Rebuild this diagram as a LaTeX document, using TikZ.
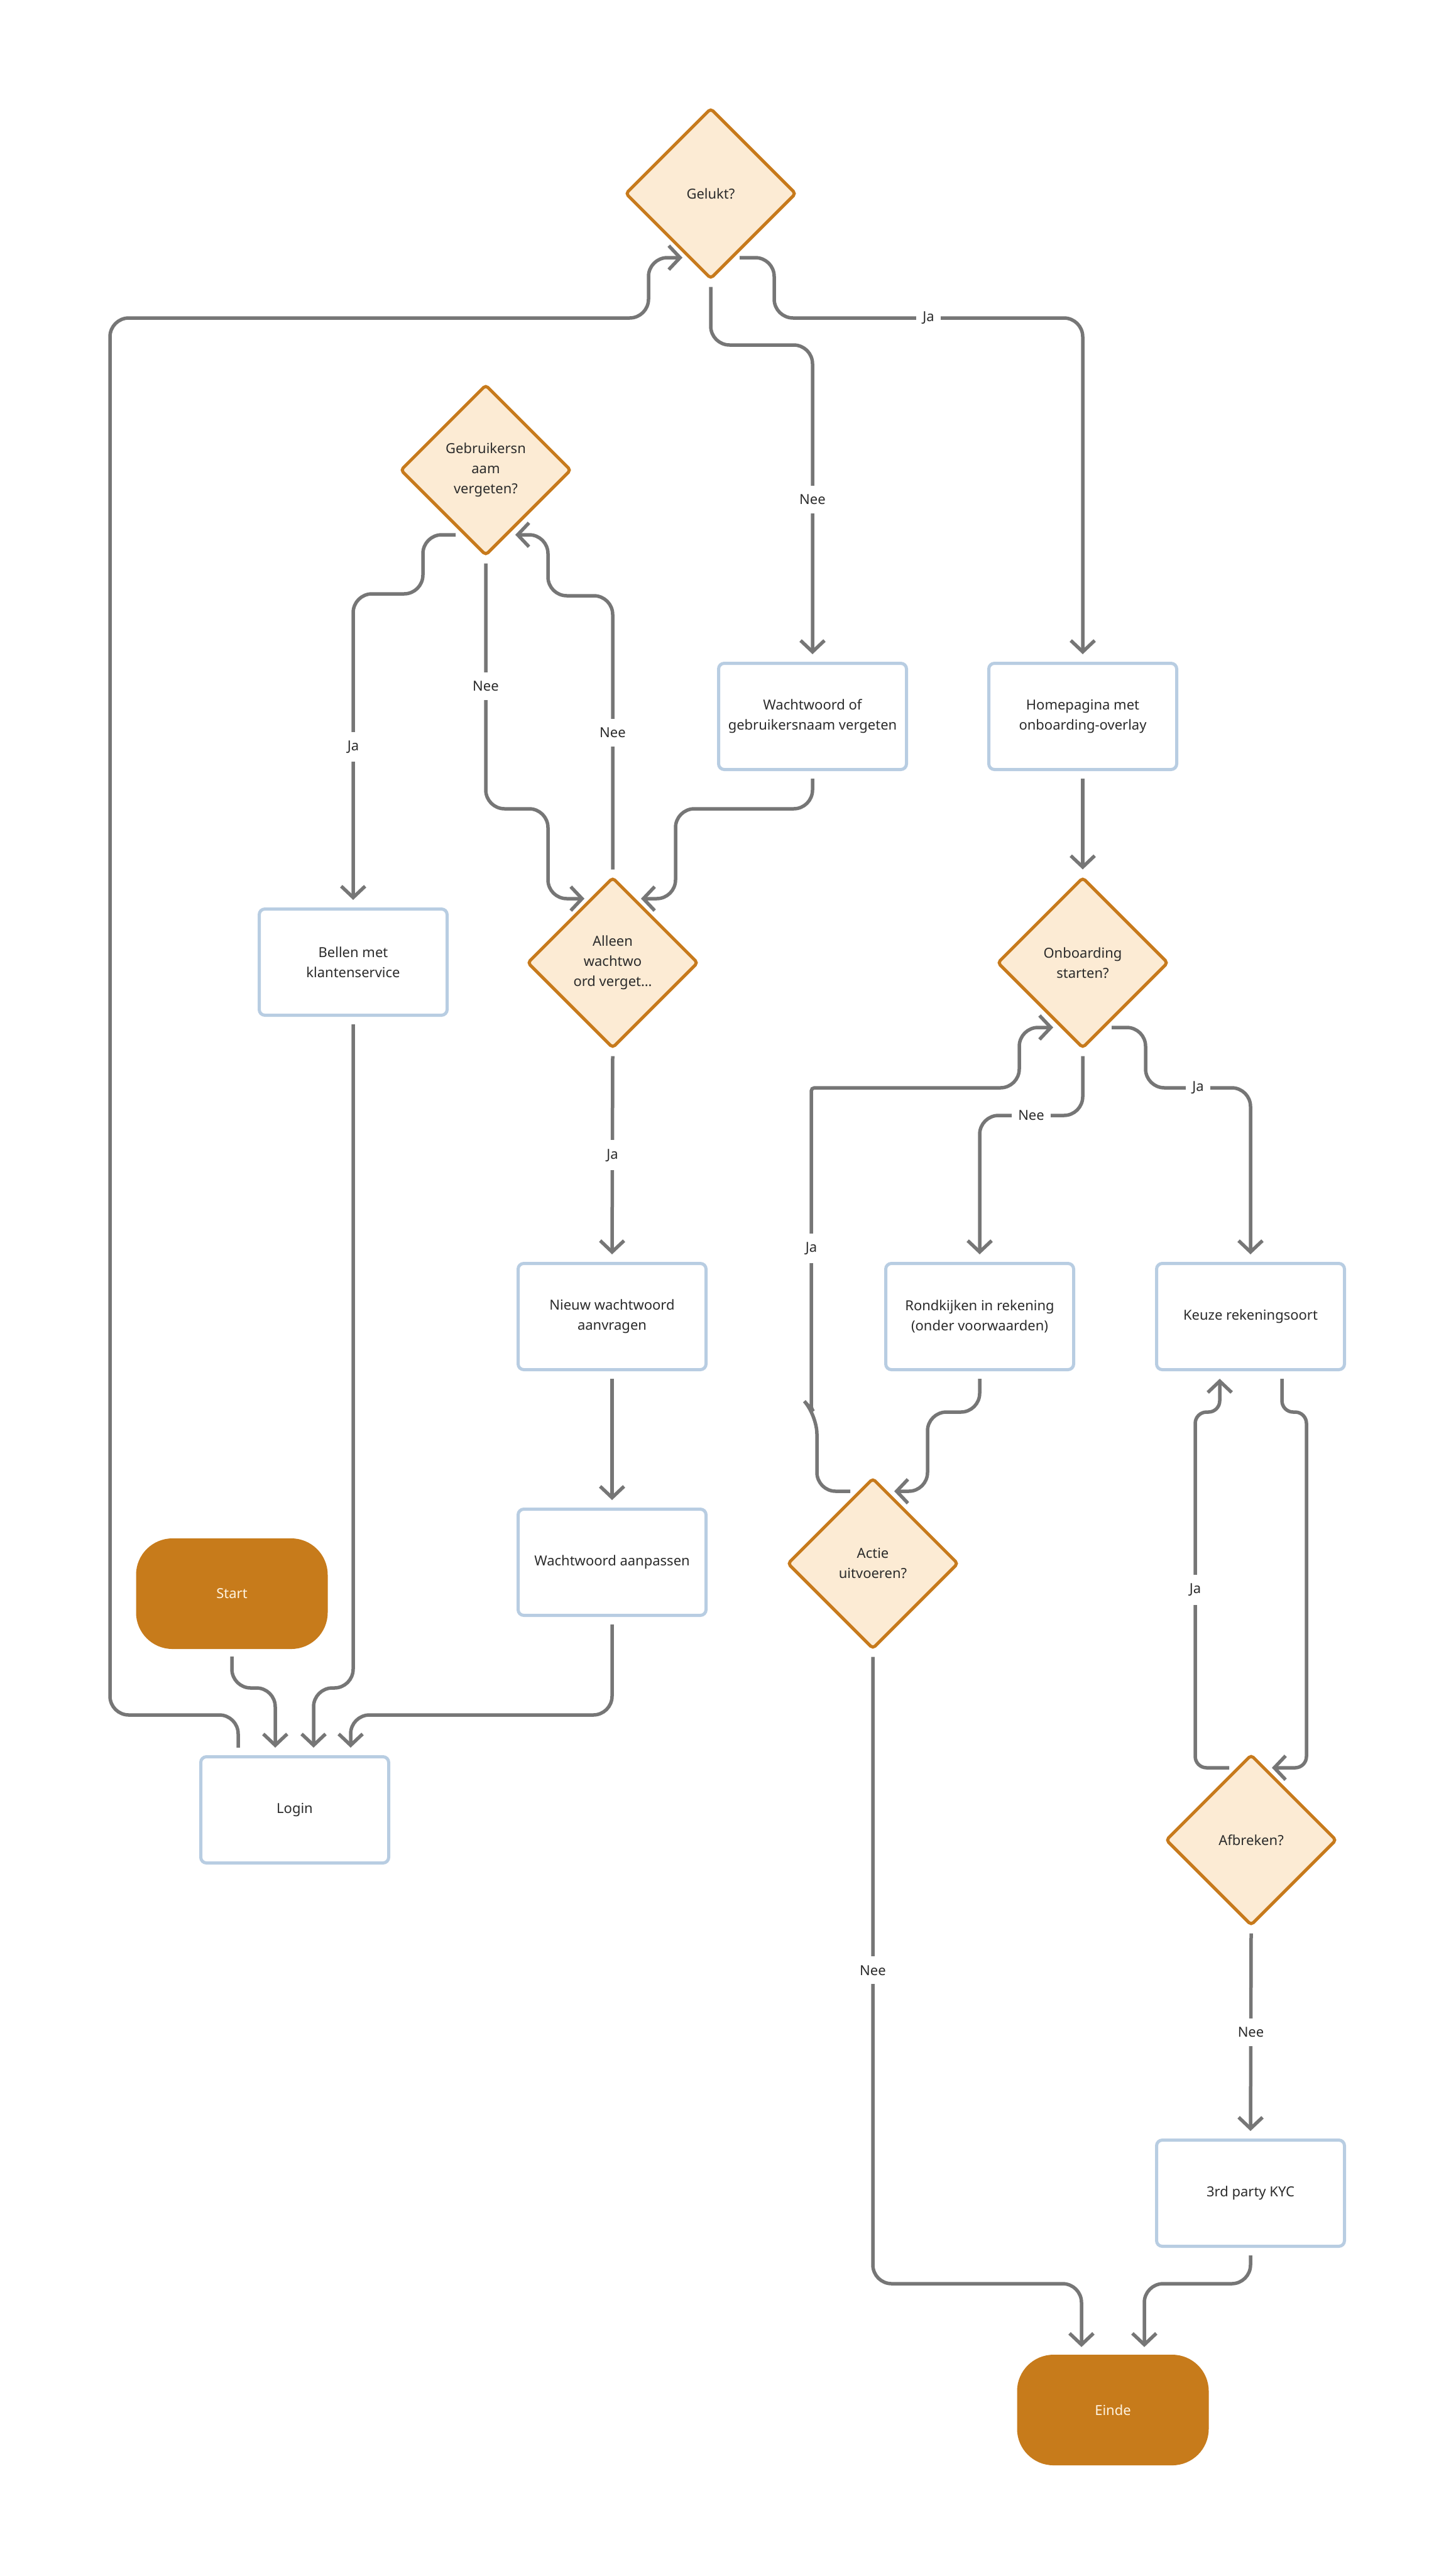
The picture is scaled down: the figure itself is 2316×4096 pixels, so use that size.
\documentclass[tikz,border=0pt]{standalone}
\usepackage{fontspec}
\setmainfont{Noto Sans}
\usetikzlibrary{shapes.geometric,arrows.meta,calc}
\definecolor{dborder}{HTML}{C77A1C}
\definecolor{dfill}{HTML}{FCEBD4}
\definecolor{bborder}{HTML}{B8CDE2}
\definecolor{termfill}{HTML}{C77B1B}
\definecolor{termtext}{HTML}{FFF4E2}
\definecolor{conncol}{HTML}{767676}
\definecolor{txt}{HTML}{2B2B2B}
\begin{document}
\begin{tikzpicture}[x=1pt,y=-1pt,
  every node/.style={font=\fontsize{22}{32}\selectfont, text=txt},
  decision/.style={diamond, draw=dborder, fill=dfill, line width=5pt, minimum width=272pt, minimum height=272pt, inner sep=0pt, align=center, rounded corners=5pt},
  box/.style={rectangle, draw=bborder, fill=white, line width=5pt, minimum width=299pt, minimum height=169pt, rounded corners=9pt, align=center, inner sep=0pt},
  terminal/.style={rectangle, fill=termfill, minimum width=305pt, minimum height=176pt, rounded corners=58pt, text=termtext},
  conn/.style={draw=conncol, line width=5.5pt, rounded corners=30pt, -{Straight Barb[length=18pt,width=38pt]}},
  lbl/.style={fill=white, inner xsep=10pt, inner ysep=14pt, text=txt, rounded corners=0pt}
]
\path[use as bounding box] (0,0) rectangle (2316,4096);

% decisions
\node[decision] (gelukt) at (1131,308) {Gelukt?};
\node[decision] (gebr) at (773,748) {Gebruikersn\\aam\\vergeten?};
\node[decision] (alleen) at (975,1532) {Alleen\\wachtwo\\ord verget…};
\node[decision] (onb) at (1723,1532) {Onboarding\\starten?};
\node[decision] (actie) at (1389,2488) {Actie\\uitvoeren?};
\node[decision] (afbr) at (1991,2928) {Afbreken?};

% boxes
\node[box] (ww) at (1293,1140) {Wachtwoord of\\gebruikersnaam vergeten};
\node[box] (home) at (1723,1140) {Homepagina met\\onboarding-overlay};
\node[box] (bellen) at (562,1531) {Bellen met\\klantenservice};
\node[box] (nieuw) at (974,2095) {Nieuw wachtwoord\\aanvragen};
\node[box] (aanp) at (974,2486) {Wachtwoord aanpassen};
\node[box] (rond) at (1559,2095) {Rondkijken in rekening\\(onder voorwaarden)};
\node[box] (keuze) at (1990,2095) {Keuze rekeningsoort};
\node[box] (kyc) at (1990,3490) {3rd party KYC};
\node[box] (login) at (469,2880) {Login};

% terminals
\node[terminal] (start) at (369,2536) {Start};
\node[terminal] (einde) at (1771,3835) {Einde};

% connectors
\draw[conn] ([yshift=-10pt]gelukt.south) -- (1131,549) -- (1293,549) -- node[lbl]{Nee} ([yshift=12pt]ww.north);
\draw[conn] ($(gelukt)+(46,102)$) -- (1232,410) -- (1232,506) -- node[lbl]{Ja} (1723,506) -- ([yshift=12pt]home.north);
\draw[conn] ([xshift=-90pt,yshift=12pt]login.north) -- (379,2729) -- (175,2729) -- (175,506) -- (1032,506) -- (1032,410) -- ($(gelukt)+(-45,102)$);

\draw[conn] ($(gebr)+(-48,103)$) -- (673,851) -- (673,945) -- (562,945) -- node[lbl]{Ja} ([yshift=12pt]bellen.north);
\draw[conn] ([yshift=-10pt]gebr.south) -- node[lbl]{Nee} (773,1287) -- (872,1287) -- (872,1430) -- ($(alleen)+(-45,-102)$);
\draw[conn] ([yshift=10pt]alleen.north) -- node[lbl]{Nee} (975,948) -- (872,948) -- (872,851) -- ($(gebr)+(47,103)$);
\draw[conn] ([yshift=-12pt]ww.south) -- (1293,1287) -- (1075,1287) -- (1075,1430) -- ($(alleen)+(45,-102)$);

\draw[conn] ([yshift=-10pt]alleen.south) -- node[lbl]{Ja} ([yshift=12pt]nieuw.north);
\draw[conn] ([yshift=-12pt]nieuw.south) -- ([yshift=12pt]aanp.north);

\draw[conn] ([yshift=-12pt]bellen.south) -- (562,2686) -- (499,2686) -- ([xshift=30pt,yshift=12pt]login.north);
\draw[conn] ([yshift=-12pt]start.south) -- (369,2686) -- (438,2686) -- ([xshift=-31pt,yshift=12pt]login.north);
\draw[conn] ([yshift=-12pt]aanp.south) -- (974,2729) -- (558,2729) -- ([xshift=89pt,yshift=12pt]login.north);

\draw[conn] ([yshift=-12pt]home.south) -- ([yshift=10pt]onb.north);
\draw[conn] ([yshift=-10pt]onb.south) -- (1723,1775) -- node[lbl]{Nee} (1559,1775) -- ([yshift=12pt]rond.north);
\draw[conn] ($(onb)+(46,103)$) -- (1823,1635) -- (1823,1731) -- node[lbl]{Ja} (1990,1731) -- ([yshift=12pt]keuze.north);
\draw[conn] ($(actie)+(-36,-115)$) -- (1300,2373) -- (1300,2252) [rounded corners=5pt] -- (1291,2242) -- node[lbl]{Ja} (1291,1731) [rounded corners=30pt] -- (1622,1731) -- (1622,1635) -- ($(onb)+(-47,103)$);
\draw[conn] ([yshift=-12pt]rond.south) -- (1559,2247) -- (1476,2247) -- (1476,2373) -- ($(actie)+(34,-115)$);

\draw[conn] ([yshift=-10pt]actie.south) -- node[lbl]{Nee} (1389,3634) -- (1721,3634) -- ([xshift=-50pt,yshift=12pt]einde.north);
\draw[conn] ([yshift=-12pt]kyc.south) -- (1990,3634) -- (1821,3634) -- ([xshift=50pt,yshift=12pt]einde.north);

\draw[conn,rounded corners=18pt] ([xshift=50pt,yshift=-12pt]keuze.south) -- (2040,2247) -- (2079,2247) -- (2079,2813) -- ($(afbr)+(33,-115)$);
\draw[conn,rounded corners=18pt] ($(afbr)+(-35,-115)$) -- (1902,2813) -- node[lbl]{Ja} (1902,2247) -- (1941,2247) -- ([xshift=-49pt,yshift=-12pt]keuze.south);
\draw[conn] ([yshift=-10pt]afbr.south) -- node[lbl]{Nee} ([yshift=12pt]kyc.north);
\end{tikzpicture}
\end{document}
